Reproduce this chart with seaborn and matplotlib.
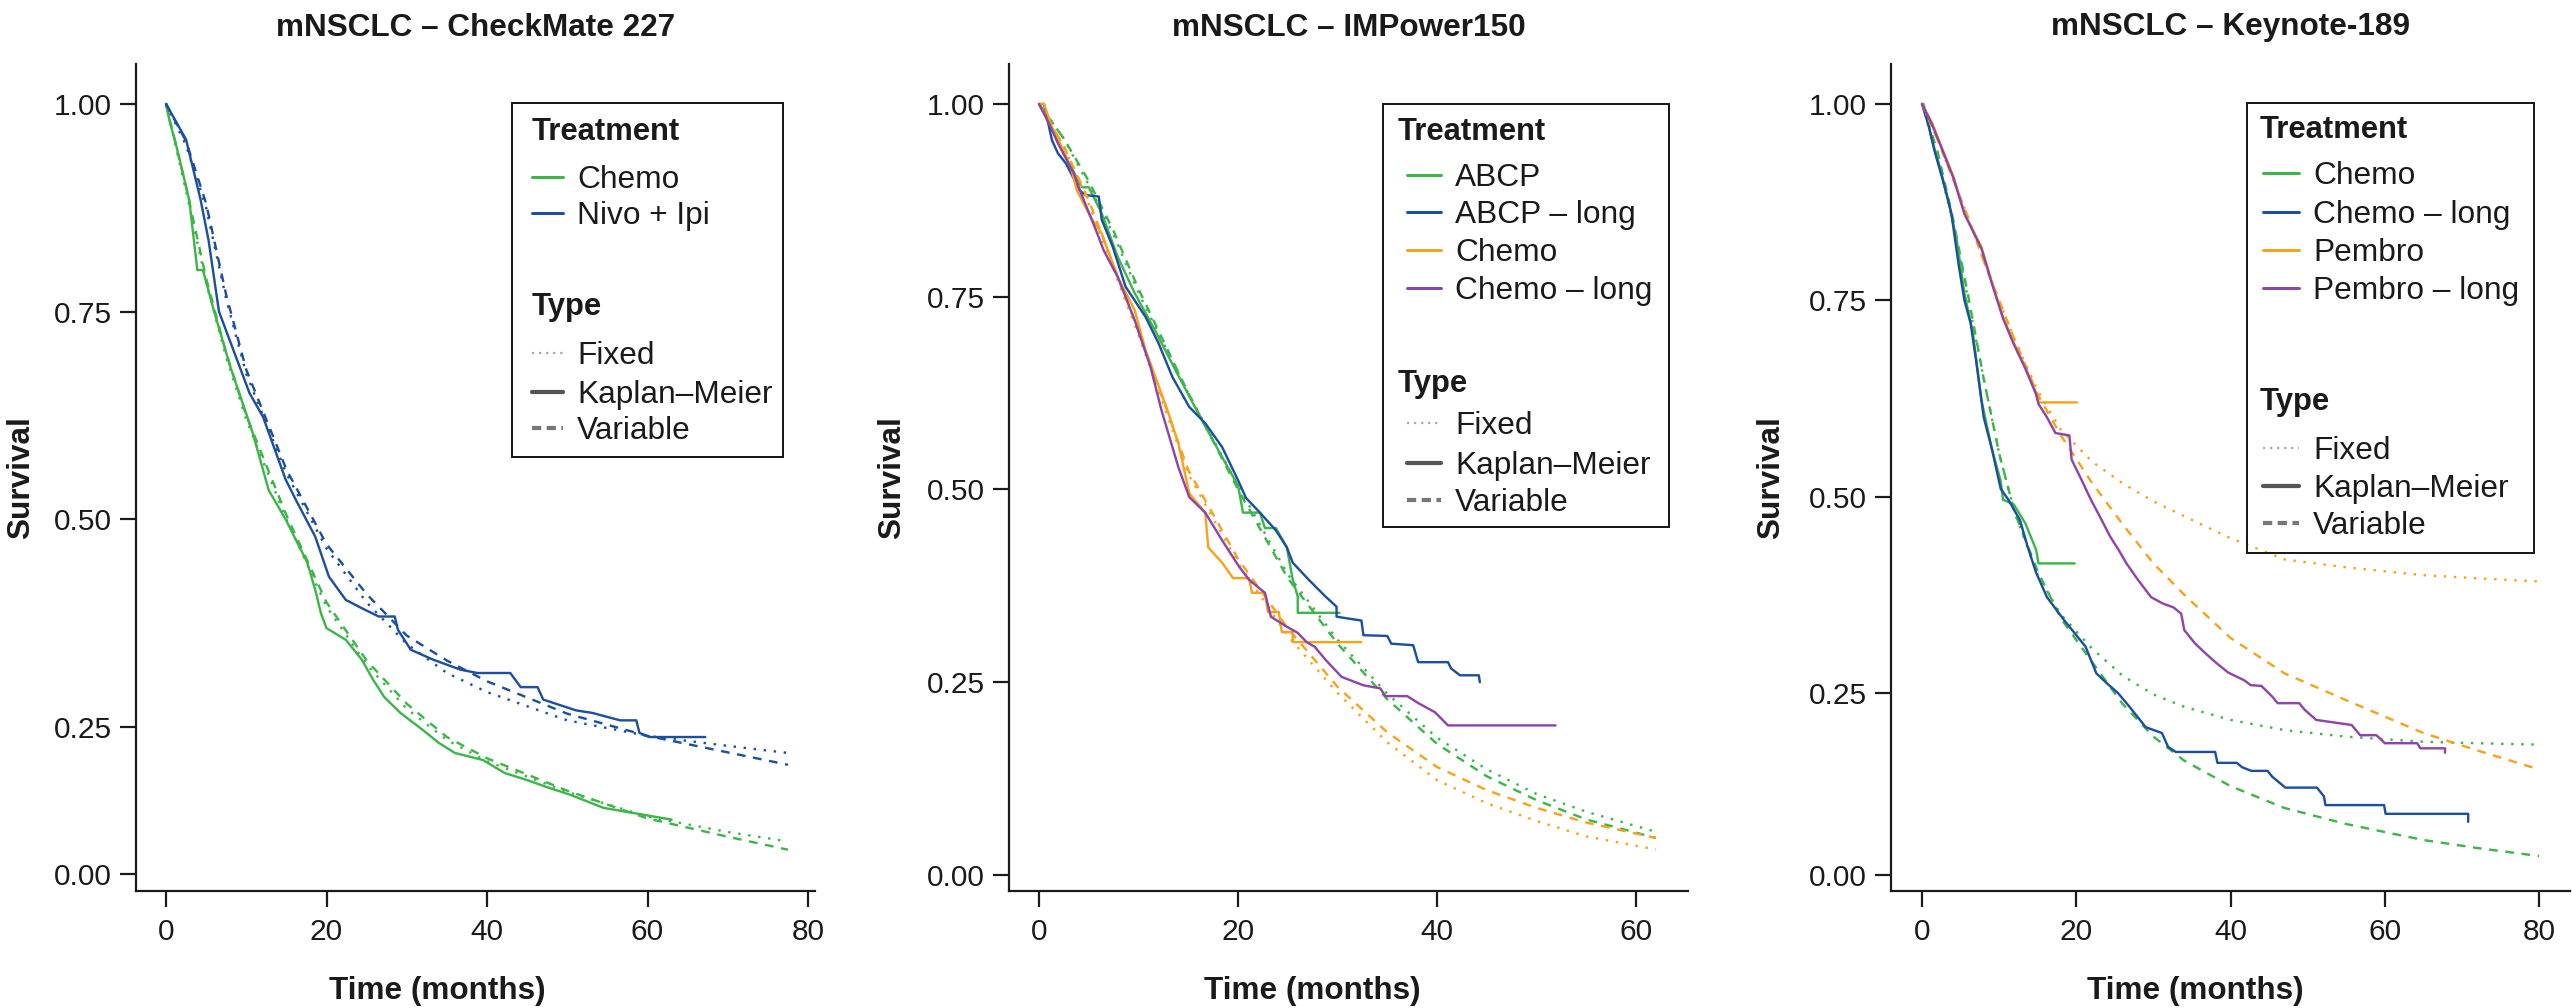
"""
Survival extrapolation in mNSCLC trials
Kaplan-Meier curves with fixed and variable parametric fits
Output: out.png
"""

import matplotlib
matplotlib.use('Agg')
import matplotlib.pyplot as plt
from matplotlib.lines import Line2D
from matplotlib.patches import Rectangle
import numpy as np
import pandas as pd
import seaborn as sns

# ---------------- CheckMate 227 ----------------
cm_chemo_km_t = [0, 0.5, 1.2, 2.9, 3.9, 4.6, 6.0, 8.0, 10.8, 12.8, 14.9, 17.6, 18.6, 19.3, 20.0,
                 22.4, 24.4, 25.8, 27.2, 29.2, 32.0, 34.0, 36.0, 39.5, 42.2, 45.0, 47.7, 50.4,
                 54.5, 57.9, 63.0]
cm_chemo_km_s = [1.0, 0.977, 0.953, 0.884, 0.80, 0.80, 0.75, 0.684, 0.604, 0.535, 0.50, 0.448,
                 0.415, 0.387, 0.369, 0.355, 0.331, 0.307, 0.286, 0.267, 0.245, 0.223, 0.206,
                 0.194, 0.172, 0.16, 0.147, 0.135, 0.113, 0.105, 0.093]
cm_nivo_km_t = [0, 2.5, 4.3, 5.3, 6.6, 10.4, 12.1, 14.9, 16.2, 18.6, 20.3, 22.4, 24.4, 26.5,
                28.5, 28.9, 30.5, 33.3, 36.7, 38.8, 42.9, 44.2, 46.3, 47.0, 51.1, 53.1, 56.6,
                58.6, 59.0, 60.2, 67.2]
cm_nivo_km_s = [1.0, 0.957, 0.885, 0.836, 0.75, 0.652, 0.623, 0.548, 0.523, 0.479, 0.431,
                0.403, 0.393, 0.383, 0.383, 0.367, 0.343, 0.331, 0.319, 0.315, 0.315, 0.298,
                0.298, 0.283, 0.270, 0.267, 0.258, 0.258, 0.240, 0.233, 0.233]
cm_fit_t = [0, 2.5, 5, 7.5, 10, 15, 20, 25, 30, 35, 40, 50, 60, 70, 77.5]
cm_chemo_fixed = [1.0, 0.895, 0.785, 0.695, 0.62, 0.50, 0.395, 0.325, 0.272, 0.228, 0.192,
                  0.14, 0.098, 0.072, 0.056]
cm_chemo_var = [1.0, 0.90, 0.79, 0.70, 0.625, 0.505, 0.40, 0.33, 0.278, 0.233, 0.197, 0.142,
                0.095, 0.064, 0.042]
cm_nivo_fixed = [1.0, 0.95, 0.875, 0.765, 0.675, 0.555, 0.465, 0.40, 0.35, 0.315, 0.292,
                 0.258, 0.235, 0.218, 0.206]
cm_nivo_var = [1.0, 0.955, 0.88, 0.77, 0.68, 0.56, 0.47, 0.41, 0.36, 0.33, 0.305, 0.266,
               0.235, 0.207, 0.186]

# ---------------- IMPower150 ----------------
imp_abcp_km_t = [0, 0.8, 2.7, 4.3, 5.0, 6.3, 7.9, 9.6, 11.8, 13.7, 16.2, 18.4, 20.0, 20.5,
                 22.2, 22.7, 23.8, 24.9, 25.5, 26.0, 26.0, 30.2]
imp_abcp_km_s = [1.0, 0.98, 0.931, 0.892, 0.892, 0.858, 0.802, 0.755, 0.703, 0.655, 0.594,
                 0.542, 0.505, 0.47, 0.47, 0.45, 0.45, 0.425, 0.383, 0.361, 0.34, 0.34]
imp_abcp_long_km_t = [0, 0.5, 1.3, 1.9, 2.7, 4.1, 4.6, 6.0, 6.3, 7.4, 8.7, 10.7, 12.0, 13.4,
                      15.1, 16.7, 18.4, 20.0, 20.8, 22.2, 23.8, 24.9, 25.5, 27.1, 28.8, 29.9,
                      29.9, 32.4, 32.6, 35.0, 35.4, 37.6, 38.1, 41.1, 41.4, 42.3, 44.2, 44.3]
imp_abcp_long_km_s = [1.0, 1.0, 0.953, 0.936, 0.923, 0.888, 0.882, 0.88, 0.85, 0.815, 0.763,
                      0.724, 0.69, 0.646, 0.607, 0.586, 0.555, 0.512, 0.489, 0.47, 0.447,
                      0.425, 0.405, 0.383, 0.361, 0.348, 0.335, 0.33, 0.311, 0.31, 0.30,
                      0.298, 0.276, 0.276, 0.268, 0.259, 0.259, 0.25]
imp_chemo_km_t = [0, 0.5, 1.3, 2.1, 3.2, 3.8, 5.2, 6.3, 7.9, 9.6, 10.7, 11.8, 12.9, 14.0,
                  15.1, 16.7, 17.0, 18.4, 19.5, 21.1, 21.4, 22.7, 23.0, 24.1, 24.4, 25.5,
                  25.5, 32.4]
imp_chemo_km_s = [1.0, 1.0, 0.97, 0.949, 0.918, 0.888, 0.853, 0.832, 0.776, 0.733, 0.681,
                  0.642, 0.603, 0.56, 0.495, 0.47, 0.425, 0.405, 0.385, 0.385, 0.366, 0.366,
                  0.341, 0.341, 0.315, 0.315, 0.302, 0.302]
imp_chemo_long_km_t = [0, 1.0, 1.9, 3.5, 4.1, 5.2, 5.7, 6.5, 7.9, 9.6, 11.2, 12.3, 14.0,
                       15.1, 16.7, 18.4, 20.1, 21.1, 22.7, 23.3, 24.9, 26.0, 26.9, 27.7,
                       28.8, 30.4, 32.6, 34.3, 34.8, 37.0, 38.1, 39.8, 41.1, 51.9]
imp_chemo_long_km_s = [1.0, 0.975, 0.949, 0.91, 0.888, 0.853, 0.837, 0.81, 0.776, 0.72,
                       0.659, 0.603, 0.529, 0.49, 0.47, 0.434, 0.40, 0.383, 0.366, 0.335,
                       0.322, 0.314, 0.302, 0.296, 0.279, 0.257, 0.246, 0.242, 0.232, 0.232,
                       0.223, 0.211, 0.194, 0.194]
imp_fit_t = [0, 2.5, 5, 7.5, 10, 15, 20, 25, 30, 35, 40, 45, 50, 55, 62]
imp_abcp_fixed = [1.0, 0.955, 0.895, 0.83, 0.755, 0.625, 0.505, 0.39, 0.305, 0.235, 0.178,
                  0.137, 0.105, 0.082, 0.056]
imp_abcp_var = [1.0, 0.955, 0.90, 0.835, 0.76, 0.625, 0.50, 0.385, 0.30, 0.228, 0.17, 0.128,
                0.097, 0.072, 0.048]
imp_chemo_fixed = [1.0, 0.945, 0.87, 0.785, 0.70, 0.52, 0.405, 0.31, 0.236, 0.172, 0.123,
                   0.093, 0.07, 0.05, 0.033]
imp_chemo_var = [1.0, 0.945, 0.875, 0.79, 0.705, 0.525, 0.41, 0.32, 0.244, 0.185, 0.14,
                 0.11, 0.087, 0.068, 0.048]

# ---------------- Keynote-189 ----------------
kn_chemo_km_t = [0, 0.2, 1.3, 2.3, 3.4, 4.5, 5.5, 6.6, 7.7, 9.1, 10.2, 10.5, 11.9, 13.4,
                 14.8, 15.1, 19.8]
kn_chemo_km_s = [1.0, 1.0, 0.954, 0.92, 0.878, 0.827, 0.759, 0.708, 0.623, 0.559, 0.52,
                 0.496, 0.49, 0.466, 0.432, 0.415, 0.415]
kn_chemo_long_km_t = [0, 0.9, 1.6, 2.7, 3.8, 4.8, 5.5, 6.3, 7.0, 8.0, 9.1, 10.2, 11.2, 12.7,
                      13.7, 14.8, 16.2, 18.4, 19.8, 21.2, 22.6, 24.0, 25.4, 26.9, 29.0, 31.1,
                      31.9, 32.9, 38.0, 38.3, 40.8, 41.5, 42.7, 44.8, 45.4, 47.1, 51.2, 52.1,
                      52.3, 59.9, 60.1, 70.8, 70.8]
kn_chemo_long_km_s = [1.0, 0.971, 0.941, 0.903, 0.861, 0.792, 0.75, 0.721, 0.674, 0.601,
                      0.559, 0.51, 0.496, 0.47, 0.436, 0.403, 0.372, 0.343, 0.326, 0.309,
                      0.275, 0.262, 0.25, 0.231, 0.203, 0.195, 0.176, 0.169, 0.169, 0.154,
                      0.154, 0.148, 0.143, 0.143, 0.135, 0.12, 0.12, 0.108, 0.096, 0.096,
                      0.084, 0.084, 0.073]
kn_pembro_km_t = [0, 1.3, 2.7, 4.1, 5.5, 7.7, 9.1, 10.5, 11.9, 13.4, 14.8, 15.1, 20.1]
kn_pembro_km_s = [1.0, 0.976, 0.941, 0.907, 0.861, 0.818, 0.772, 0.729, 0.696, 0.665,
                  0.632, 0.62, 0.62]
kn_pembro_long_km_t = [0, 1.3, 2.7, 4.1, 5.5, 7.7, 9.1, 10.5, 11.9, 13.4, 14.8, 15.1, 16.2,
                       17.3, 19.1, 19.4, 20.5, 21.9, 23.3, 24.4, 25.5, 26.5, 28.0, 29.7,
                       31.2, 32.6, 33.6, 34.0, 35.4, 36.8, 38.3, 39.7, 41.8, 42.6, 44.0,
                       45.4, 46.1, 48.9, 49.6, 51.1, 55.7, 56.8, 58.9, 60.0, 64.2, 64.6,
                       67.8, 67.8]
kn_pembro_long_km_s = [1.0, 0.974, 0.94, 0.905, 0.86, 0.816, 0.77, 0.727, 0.694, 0.663,
                       0.63, 0.618, 0.601, 0.581, 0.578, 0.547, 0.525, 0.496, 0.47, 0.449,
                       0.432, 0.415, 0.394, 0.372, 0.364, 0.359, 0.351, 0.33, 0.313, 0.30,
                       0.287, 0.276, 0.266, 0.26, 0.259, 0.245, 0.236, 0.236, 0.227, 0.213,
                       0.206, 0.192, 0.192, 0.181, 0.181, 0.174, 0.174, 0.168]
kn_fit_t = [0, 2, 4, 6, 8, 10, 12, 15, 18, 22, 26, 30, 34, 40, 47, 55, 65, 72, 80]
kn_chemo_fixed = [1.0, 0.93, 0.85, 0.75, 0.65, 0.555, 0.48, 0.40, 0.35, 0.307, 0.272, 0.248,
                  0.231, 0.213, 0.199, 0.19, 0.183, 0.181, 0.179]
kn_chemo_var = [1.0, 0.94, 0.855, 0.755, 0.65, 0.555, 0.48, 0.405, 0.345, 0.29, 0.235, 0.19,
                0.157, 0.122, 0.092, 0.07, 0.048, 0.037, 0.026]
kn_pembro_fixed = [1.0, 0.955, 0.905, 0.855, 0.80, 0.75, 0.70, 0.635, 0.585, 0.545, 0.517,
                   0.494, 0.475, 0.447, 0.42, 0.41, 0.40, 0.396, 0.392]
kn_pembro_var = [1.0, 0.955, 0.905, 0.855, 0.80, 0.75, 0.70, 0.63, 0.578, 0.518, 0.465,
                 0.415, 0.375, 0.32, 0.275, 0.24, 0.195, 0.171, 0.145]

TYPES = ['Fixed', 'Kaplan–Meier', 'Variable']
GREEN, BLUE, ORANGE, PURPLE = '#3DB54A', '#1D4F9F', '#F7A21B', '#8E44A8'
INK = '#1a1a1a'

W, H = 2572, 1008          # figure size in pixels (dpi 100)
PT = 0.72                  # points per pixel

sns.set_theme(style='ticks')
plt.rcParams['font.family'] = ['Liberation Sans', 'DejaVu Sans']


def survival_scale(k):
    # y axis is compressed below 0.25 in the original figure
    def fwd(v):
        v = np.asarray(v, dtype=float)
        return np.where(v >= 0.25, v, 0.25 + (v - 0.25) * k)

    def inv(u):
        u = np.asarray(u, dtype=float)
        return np.where(u >= 0.25, u, 0.25 + (u - 0.25) / k)
    return fwd, inv


def long_frame(curves):
    parts = [pd.DataFrame({'time': t, 'surv': s, 'treatment': treat, 'type': kind})
             for treat, kind, t, s in curves]
    return pd.concat(parts, ignore_index=True)


def fx(x):
    return x / W


def fy(y):
    return 1 - y / H


def draw_legend(fig, box, head_x, key_x, text_x, treat_base, treat_rows, type_base,
                type_rows, palette):
    x0, y0, x1, y1 = box
    fig.add_artist(Rectangle((fx(x0), fy(y1)), fx(x1 - x0), (y1 - y0) / H,
                             transform=fig.transFigure, fill=False, ec=INK, lw=2 * PT))
    fig.text(fx(head_x), fy(treat_base), 'Treatment', fontsize=22.3, fontweight='bold',
             color=INK, va='baseline')
    for (name, color), yc in zip(palette.items(), treat_rows):
        fig.add_artist(Line2D([fx(key_x[0]), fx(key_x[1])], [fy(yc), fy(yc)],
                              transform=fig.transFigure, color=color, lw=3 * PT))
        fig.text(fx(text_x), fy(yc + 11), name, fontsize=22.8, color=INK, va='baseline')
    fig.text(fx(head_x), fy(type_base), 'Type', fontsize=22.3, fontweight='bold',
             color=INK, va='baseline')
    key_styles = [dict(color='#A8A8A8', lw=2.2 * PT, dashes=(1, 2.2)),
                  dict(color='#555555', lw=4.2 * PT),
                  dict(color='#777777', lw=4.2 * PT, dashes=(2.2, 1.3))]
    for name, style, yc in zip(TYPES, key_styles, type_rows):
        fig.add_artist(Line2D([fx(key_x[0]), fx(key_x[1])], [fy(yc), fy(yc)],
                              transform=fig.transFigure, **style))
        fig.text(fx(text_x), fy(yc + 11), name, fontsize=22.8, color=INK, va='baseline')


panels = [
    dict(title='mNSCLC – CheckMate 227',
         curves=[('Chemo', 'Kaplan–Meier', cm_chemo_km_t, cm_chemo_km_s),
                 ('Nivo + Ipi', 'Kaplan–Meier', cm_nivo_km_t, cm_nivo_km_s),
                 ('Chemo', 'Fixed', cm_fit_t, cm_chemo_fixed),
                 ('Chemo', 'Variable', cm_fit_t, cm_chemo_var),
                 ('Nivo + Ipi', 'Fixed', cm_fit_t, cm_nivo_fixed),
                 ('Nivo + Ipi', 'Variable', cm_fit_t, cm_nivo_var)],
         palette={'Chemo': GREEN, 'Nivo + Ipi': BLUE},
         rect=(136, 64, 815, 891), xlim=(-3.74, 80.87), xticks=[0, 20, 40, 60, 80],
         k=0.71, ylim=(-0.028, 1.048), ylab_x=21, xlab_x=437,
         legend=dict(box=(512, 103, 783, 457), head_x=532, key_x=(532, 563), text_x=577,
                     treat_base=140, treat_rows=[177, 213], type_base=315,
                     type_rows=[353, 392, 428])),
    dict(title='mNSCLC – IMPower150',
         curves=[('ABCP', 'Kaplan–Meier', imp_abcp_km_t, imp_abcp_km_s),
                 ('ABCP – long', 'Kaplan–Meier', imp_abcp_long_km_t, imp_abcp_long_km_s),
                 ('Chemo', 'Kaplan–Meier', imp_chemo_km_t, imp_chemo_km_s),
                 ('Chemo – long', 'Kaplan–Meier', imp_chemo_long_km_t, imp_chemo_long_km_s),
                 ('ABCP', 'Fixed', imp_fit_t, imp_abcp_fixed),
                 ('ABCP', 'Variable', imp_fit_t, imp_abcp_var),
                 ('Chemo', 'Fixed', imp_fit_t, imp_chemo_fixed),
                 ('Chemo', 'Variable', imp_fit_t, imp_chemo_var)],
         palette={'ABCP': GREEN, 'ABCP – long': BLUE, 'Chemo': ORANGE, 'Chemo – long': PURPLE},
         rect=(1009, 64, 1688, 891), xlim=(-3.02, 65.22), xticks=[0, 20, 40, 60],
         k=1.0, ylim=(-0.0208, 1.0519), ylab_x=892, xlab_x=1312,
         legend=dict(box=(1383, 104, 1669, 527), head_x=1398, key_x=(1407, 1441), text_x=1455,
                     treat_base=140, treat_rows=[175, 212, 250, 288], type_base=392,
                     type_rows=[423, 463, 500])),
    dict(title='mNSCLC – Keynote-189',
         curves=[('Chemo', 'Kaplan–Meier', kn_chemo_km_t, kn_chemo_km_s),
                 ('Chemo – long', 'Kaplan–Meier', kn_chemo_long_km_t, kn_chemo_long_km_s),
                 ('Pembro', 'Kaplan–Meier', kn_pembro_km_t, kn_pembro_km_s),
                 ('Pembro – long', 'Kaplan–Meier', kn_pembro_long_km_t, kn_pembro_long_km_s),
                 ('Chemo', 'Fixed', kn_fit_t, kn_chemo_fixed),
                 ('Chemo', 'Variable', kn_fit_t, kn_chemo_var),
                 ('Pembro', 'Fixed', kn_fit_t, kn_pembro_fixed),
                 ('Pembro', 'Variable', kn_fit_t, kn_pembro_var)],
         palette={'Chemo': GREEN, 'Chemo – long': BLUE, 'Pembro': ORANGE,
                  'Pembro – long': PURPLE},
         rect=(1891, 64, 2570, 891), xlim=(-4.02, 84.0), xticks=[0, 20, 40, 60, 80],
         k=0.927, ylim=(-0.022, 1.0509), ylab_x=1771, xlab_x=2195,
         legend=dict(box=(2247, 103, 2534, 553), head_x=2260, key_x=(2263, 2299), text_x=2313,
                     treat_base=138, treat_rows=[173, 212, 250, 288], type_base=410,
                     type_rows=[448, 486, 523])),
]

fig = plt.figure(figsize=(W / 100, H / 100), dpi=100)

for p in panels:
    x0, y0, x1, y1 = p['rect']
    ax = fig.add_axes([fx(x0), fy(y1), fx(x1 - x0), (y1 - y0) / H])
    ax.set_yscale('function', functions=survival_scale(p['k']))

    df = long_frame(p['curves'])
    sns.lineplot(data=df, x='time', y='surv', hue='treatment', style='type',
                 hue_order=list(p['palette']), style_order=TYPES, palette=p['palette'],
                 dashes={'Fixed': (1, 3.2), 'Kaplan–Meier': '', 'Variable': (3.6, 3.2)},
                 estimator=None, sort=False, linewidth=2.4 * PT, legend=False, ax=ax)

    ax.set_xlim(*p['xlim'])
    ax.set_ylim(*p['ylim'])
    ax.set_xticks(p['xticks'])
    ax.set_yticks([0, 0.25, 0.5, 0.75, 1.0])
    ax.set_yticklabels([f'{v:.2f}' for v in [0, 0.25, 0.5, 0.75, 1.0]])
    ax.minorticks_off()

    sns.despine(ax=ax)
    for side in ['left', 'bottom']:
        ax.spines[side].set_linewidth(2.2 * PT)
        ax.spines[side].set_color(INK)
    ax.tick_params(length=16 * PT, width=2.2 * PT, color=INK, labelcolor=INK,
                   labelsize=21.5)
    ax.tick_params(axis='x', pad=11.5 * PT)
    ax.tick_params(axis='y', pad=8 * PT)

    ax.set_title(p['title'], fontsize=22.7, fontweight='bold', color=INK, pad=28.5 * PT)
    ax.set_xlabel('Time (months)', fontsize=22.7, fontweight='bold', color=INK,
                  va='baseline')
    ax.xaxis.set_label_coords((p['xlab_x'] - x0) / (x1 - x0), -(998.5 - y1) / (y1 - y0))
    ax.set_ylabel('Survival', fontsize=22.7, fontweight='bold', color=INK, va='center')
    ax.yaxis.set_label_coords((p['ylab_x'] - x0) / (x1 - x0), 0.5)

    draw_legend(fig, palette=p['palette'], **p['legend'])

fig.savefig('out.png', dpi=100)
plt.close(fig)
